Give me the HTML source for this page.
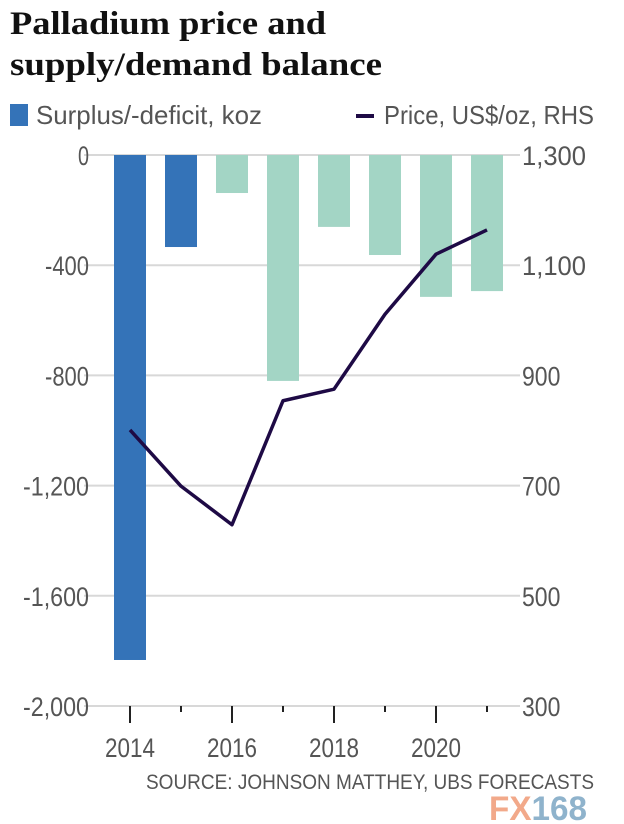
<!DOCTYPE html>
<html><head><meta charset="utf-8"><style>
body{margin:0;background:#fff;}
svg{display:block;}
text{font-family:"Liberation Sans",sans-serif;fill:#555;}
</style></head><body>
<svg id="chart" width="624" height="824">
<text x="10" y="34" textLength="316" lengthAdjust="spacingAndGlyphs" style="font-family:'Liberation Serif',serif;font-weight:bold;font-size:33px;fill:#111">Palladium price and</text>
<text x="10" y="75" textLength="372" lengthAdjust="spacingAndGlyphs" style="font-family:'Liberation Serif',serif;font-weight:bold;font-size:33px;fill:#111">supply/demand balance</text>
<rect x="10" y="104" width="18" height="22" fill="#3473b8"/>
<text x="36" y="124" font-size="26" textLength="226" lengthAdjust="spacingAndGlyphs">Surplus/-deficit, koz</text>
<rect x="356" y="114" width="18" height="4" fill="#1e0a45"/>
<text x="384" y="124" font-size="26" textLength="210" lengthAdjust="spacingAndGlyphs">Price, US$/oz, RHS</text>
<g id="grid"></g><g id="bars"></g><g id="line"></g><g id="axes"></g>
<text x="146" y="789" font-size="21" textLength="448" lengthAdjust="spacingAndGlyphs">SOURCE: JOHNSON MATTHEY, UBS FORECASTS</text>
<text x="489" y="820" font-size="34" textLength="98" lengthAdjust="spacingAndGlyphs" style="font-family:'Liberation Sans',sans-serif;font-weight:bold;fill:#f2a98a">FX<tspan style="fill:#8fb3cc">168</tspan></text>
</svg>
<script>
const years=[2014,2015,2016,2017,2018,2019,2020,2021];
const balance=[-1833,-334,-138,-820,-261,-363,-515,-494];
const price=[801,699,629,854,875,1011,1120,1164];
const leftTicks=[0,-400,-800,-1200,-1600,-2000];
const rightTicks=[1300,1100,900,700,500,300];
const yearLabels=[2014,2016,2018,2020];
const NS="http://www.w3.org/2000/svg";
const top0=155,bot=706;
const yL=v=>top0+(0-v)/2000*(bot-top0);
const yR=v=>top0+(1300-v)/1000*(bot-top0);
const x=yr=>130+(yr-2014)*51;
const cw=12.5;
function mk(tag,attrs,parent){const e=document.createElementNS(NS,tag);for(const k in attrs)e.setAttribute(k,attrs[k]);document.getElementById(parent).appendChild(e);return e;}
leftTicks.forEach((t,i)=>{
 const g=mk('line',{x1:84,x2:520,y1:yL(t),y2:yL(t),stroke:'#d8d8d8','stroke-width':2},'grid');
 
 
 const s=t.toLocaleString('en-US');
 const l=mk('text',{x:89,y:yL(t)+10,'font-size':27,'text-anchor':'end',textLength:s.length*11,lengthAdjust:'spacingAndGlyphs'},'axes');l.textContent=s;
 
 
 const rs=rightTicks[i].toLocaleString('en-US');
 const r=mk('text',{x:522,y:yR(rightTicks[i])+10,'font-size':27,textLength:rs.length*12.8,lengthAdjust:'spacingAndGlyphs'},'axes');r.textContent=rs;
 
 
});
years.forEach((yr,i)=>{
 const b=mk('rect',{x:x(yr)-16,y:top0,width:32,height:yL(balance[i])-top0,fill:yr<=2015?'#3473b8':'#a3d5c5'},'bars');
 
 
 const major=(yr%2===0);
 const tk=mk('line',{x1:x(yr),x2:x(yr),y1:bot,y2:major?723:712,stroke:'#222','stroke-width':2},'axes');
 
 
});
yearLabels.forEach(yr=>{
 const t=mk('text',{x:x(yr),y:757,'font-size':27,'text-anchor':'middle',textLength:50,lengthAdjust:'spacingAndGlyphs'},'axes');t.textContent=yr;
 
 
});
const pts=years.map((yr,i)=>x(yr)+','+yR(price[i])).join(' ');
const pl=mk('polyline',{points:pts,fill:'none',stroke:'#1e0a45','stroke-width':3.5,'stroke-linejoin':'round'},'line');


</script>
</body></html>
